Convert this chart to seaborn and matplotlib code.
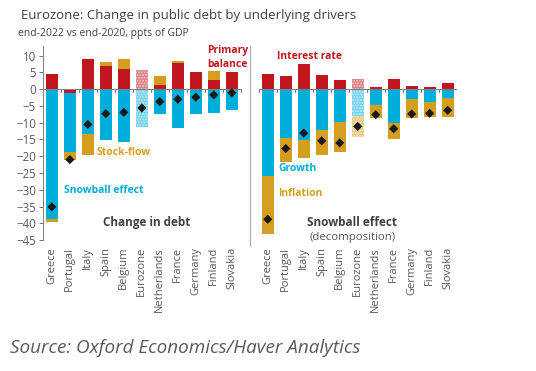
import numpy as np
import pandas as pd
import matplotlib
matplotlib.use("Agg")
import matplotlib.pyplot as plt
import seaborn as sns

# data (ppts of GDP)
countries = ["Greece", "Portugal", "Italy", "Spain", "Belgium", "Eurozone",
             "Netherlands", "France", "Germany", "Finland", "Slovakia"]

# left panel: change in debt
primary_balance = [4.5, -1.0, 8.9, 7.0, 5.9, 5.7, 1.3, 7.7, 5.0, 2.6, 5.2]
snowball = [-38.6, -17.8, -13.3, -15.3, -15.8, -11.3, -7.5, -11.7, -7.4, -7.1, -6.3]
stock_flow = [-1.0, -2.2, -6.3, 1.0, 3.0, 0.0, 2.7, 0.8, 0.0, 2.8, 0.0]
debt_change = [-35.1, -21.0, -10.5, -7.3, -6.9, -5.6, -3.7, -3.0, -2.4, -1.7, -1.1]

# right panel: snowball effect decomposition
interest_rate = [4.4, 4.0, 7.4, 4.2, 2.8, 3.0, 0.8, 3.0, 1.1, 0.8, 1.9]
growth = [-25.9, -14.6, -15.2, -12.1, -9.7, -7.9, -4.7, -10.0, -3.0, -3.7, -2.7]
inflation = [-17.2, -7.2, -5.3, -7.6, -9.1, -6.3, -4.0, -4.9, -5.6, -4.6, -5.7]
snowball_total = [-38.8, -17.7, -13.1, -15.4, -16.0, -11.1, -7.6, -11.8, -7.4, -7.2, -6.3]

RED = "#C0161F"
BLUE = "#00AEDB"
GOLD = "#D49E1E"
GREY = "#595959"

sns.set_theme(style="white")
plt.rcParams["font.family"] = ["Open Sans", "DejaVu Sans"]

n = len(countries)
left_x = np.arange(n)
right_x = np.arange(n) + n + 1
sep_x = n

fig = plt.figure(figsize=(5.36, 3.71), dpi=100)
ax = fig.add_axes([0.080, 0.353, 0.772, 0.524])


def stacked(ax, xs, parts, colors, hatch_idx):
    pos = np.zeros(len(xs))
    neg = np.zeros(len(xs))
    for vals, col in zip(parts, colors):
        vals = np.asarray(vals, dtype=float)
        bottom = np.where(vals >= 0, pos, neg)
        bars = ax.bar(xs, vals, bottom=bottom, width=0.68, color=col,
                      linewidth=0, zorder=2)
        b = bars[hatch_idx]
        b.set_alpha(0.55)
        b.set_hatch("......")
        b.set_edgecolor("white")
        pos = pos + np.where(vals >= 0, vals, 0)
        neg = neg + np.where(vals < 0, vals, 0)


ez = countries.index("Eurozone")
stacked(ax, left_x, [primary_balance, snowball, stock_flow], [RED, BLUE, GOLD], ez)
stacked(ax, right_x, [interest_rate, growth, inflation], [RED, BLUE, GOLD], ez)

pts = pd.DataFrame({"x": np.concatenate([left_x, right_x]),
                    "y": debt_change + snowball_total})
sns.scatterplot(data=pts, x="x", y="y", marker="D", s=22, color="#1a1a1a",
                edgecolor="none", zorder=4, ax=ax)

ax.set_xlim(-0.5, 2 * n + 0.5)
ax.set_ylim(-45, 13)
ax.set_yticks(np.arange(-45, 11, 5))
ax.tick_params(axis="y", labelsize=8.3, colors=GREY, length=3, width=0.6,
               direction="out", left=True, pad=2)
ax.set_xticks(np.concatenate([left_x, right_x]))
ax.set_xticklabels(countries + countries, rotation=90, fontsize=8, color=GREY)
ax.tick_params(axis="x", length=0, pad=5)
ax.set_xlabel("")
ax.set_ylabel("")
for s in ["top", "right", "bottom"]:
    ax.spines[s].set_visible(False)
ax.spines["left"].set_color("#808080")
ax.spines["left"].set_linewidth(0.7)

# zero lines with small separators between bars
for xs in (left_x, right_x):
    ax.plot([xs[0] - 0.5, xs[-1] + 0.5], [0, 0], color="#808080", lw=0.8, zorder=3)
    for t in np.append(xs - 0.5, xs[-1] + 0.5):
        ax.plot([t, t], [0, -0.7], color="#808080", lw=0.8, zorder=3)

ax.axvline(sep_x, ymin=-0.03, ymax=1.0, color="#b0b0b0", lw=0.9, clip_on=False)

bold = dict(fontsize=7.5, fontweight="bold")
ax.text(9.75, 9.5, "Primary\nbalance", color=RED, ha="center", va="center",
        linespacing=1.3, **bold)
ax.text(12.5, 9.7, "Interest rate", color=RED, ha="left", va="center", **bold)
ax.text(2.5, -18.8, "Stock-flow", color=GOLD, ha="left", va="center", **bold)
ax.text(0.7, -30.3, "Snowball effect", color=BLUE, ha="left", va="center", **bold)
ax.text(12.6, -23.6, "Growth", color=BLUE, ha="left", va="center", **bold)
ax.text(12.6, -31.1, "Inflation", color=GOLD, ha="left", va="center", **bold)
ax.text(5.25, -39.8, "Change in debt", color="#404040", ha="center", va="center",
        fontsize=8.5, fontweight="bold")
ax.text(16.7, -39.8, "Snowball effect", color="#404040", ha="center", va="center",
        fontsize=8.5, fontweight="bold")
ax.text(16.7, -44.3, "(decomposition)", color=GREY, ha="center", va="center",
        fontsize=8.2)

fig.text(0.040, 0.958, "Eurozone: Change in public debt by underlying drivers",
         fontsize=9.5, color="#404040", ha="left", va="center")
fig.text(0.033, 0.910, "end-2022 vs end-2020, ppts of GDP",
         fontsize=7.5, color="#404040", ha="left", va="center")
fig.text(0.018, 0.063, "Source: Oxford Economics/Haver Analytics",
         fontsize=13.6, color=GREY, style="italic", ha="left", va="center")

fig.savefig("out.png", dpi=100, facecolor="white")
